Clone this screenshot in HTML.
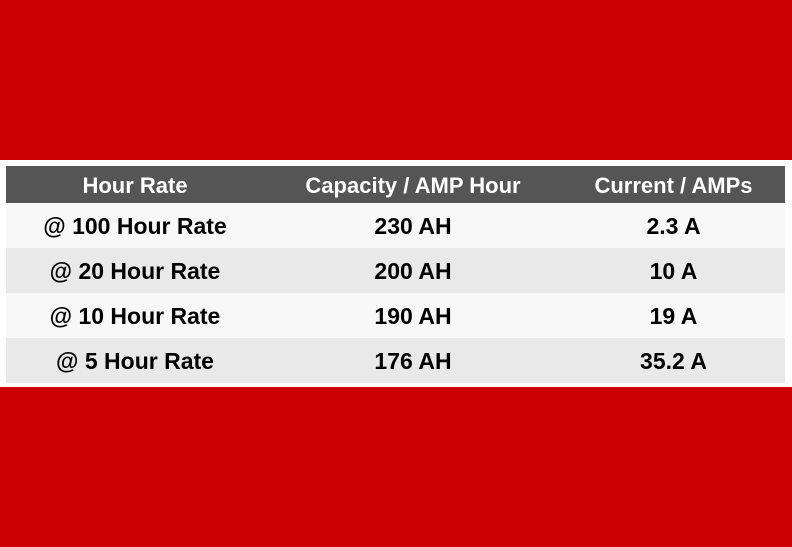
<!DOCTYPE html>
<html><head><meta charset="utf-8"><style>
html,body{margin:0;padding:0;}
body{width:792px;height:547px;background:#cc0000;position:relative;overflow:hidden;font-family:"Liberation Sans",Arial,sans-serif;}
#band{position:absolute;left:0;top:160px;width:792px;height:227px;background:#fff;}
table{position:absolute;left:6px;top:166px;width:779px;border-collapse:collapse;table-layout:fixed;}
th{background:#555555;color:#fff;font-size:22px;font-weight:bold;height:37px;padding:3px 0 0 0;box-sizing:border-box;text-align:center;}
td{font-size:23px;font-weight:bold;color:#000;height:45px;padding:2px 0 0 0;box-sizing:border-box;text-align:center;}
tr.odd td{background:#f8f8f8;}
tr.even td{background:#e9e9e9;}
</style></head><body>
<div id="band"></div>
<table>
<colgroup><col style="width:258px"><col style="width:298px"><col style="width:223px"></colgroup>
<tr><th>Hour Rate</th><th>Capacity / AMP Hour</th><th>Current / AMPs</th></tr>
<tr class="odd"><td>@ 100 Hour Rate</td><td>230 AH</td><td>2.3 A</td></tr>
<tr class="even"><td>@ 20 Hour Rate</td><td>200 AH</td><td>10 A</td></tr>
<tr class="odd"><td>@ 10 Hour Rate</td><td>190 AH</td><td>19 A</td></tr>
<tr class="even"><td>@ 5 Hour Rate</td><td>176 AH</td><td>35.2 A</td></tr>
</table>
</body></html>
